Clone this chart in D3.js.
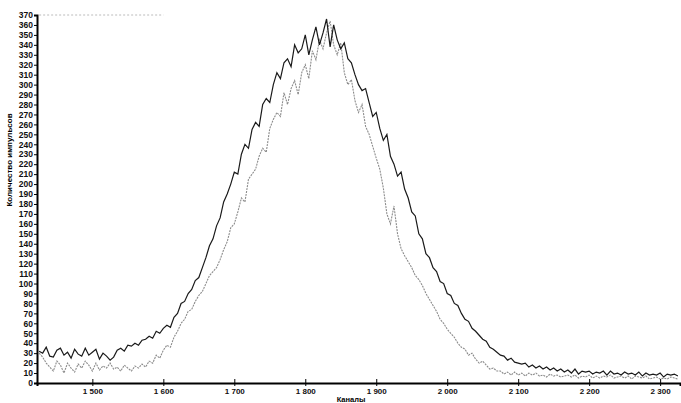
<!DOCTYPE html>
<html><head><meta charset="utf-8">
<script src="https://cdn.jsdelivr.net/npm/d3@7"></script>
<style>body{margin:0;background:#fff}svg{display:block}text{font-family:"Liberation Sans",Arial,sans-serif}</style>
</head><body><svg id="c" width="681" height="403"></svg>
<script>
const channelStart = 1425, channelStep = 5;
const xTicks = [1500,1600,1700,1800,1900,2000,2100,2200,2300];
const xTickLabels = ["1 500","1 600","1 700","1 800","1 900","2 000","2 100","2 200","2 300"];
const yTicks = [0,10,20,30,40,50,60,70,80,90,100,110,120,130,140,150,160,170,180,190,200,210,220,230,240,250,260,270,280,290,300,310,320,330,340,350,360,370];
const seriesBlack = [
32,30,36,27,26,33,35,28,31,25,
34,29,27,35,28,31,34,24,30,27,
23,26,33,35,32,38,37,40,38,43,
44,47,45,52,50,55,58,56,66,70,
80,82,90,94,103,106,116,126,138,145,
158,166,182,190,200,212,210,230,240,236,
255,262,258,280,286,282,300,312,306,322,
326,318,340,332,336,350,330,345,358,340,
352,366,338,360,345,336,342,326,322,310,
300,294,296,282,268,272,256,244,250,228,
220,208,212,195,186,172,168,150,145,130,
126,116,112,102,100,90,88,80,78,70,
64,62,55,52,48,44,42,36,34,31,
28,27,23,25,21,20,19,20,16,18,
15,17,14,16,13,15,12,14,11,13,
10,14,9,12,11,12,9,11,10,12,
8,12,9,10,8,11,9,10,8,11,
7,10,8,9,8,10,6,9,8,9,
7];
const seriesGray = [
30,26,20,16,12,22,18,10,20,15,
11,19,15,22,18,12,20,13,17,15,
20,14,16,12,18,15,12,17,15,19,
16,22,20,28,25,33,38,36,46,52,
60,64,72,74,82,88,92,100,108,112,
116,124,134,142,156,160,172,186,182,205,
210,215,228,236,232,256,265,272,268,292,
280,296,304,290,312,320,306,334,325,345,
336,352,364,340,330,342,312,300,305,284,
272,280,258,250,238,226,215,196,170,160,
178,150,135,128,122,116,108,104,98,90,
84,78,72,64,60,54,50,46,40,36,
34,28,30,24,20,22,18,14,15,12,
12,9,11,8,11,8,10,7,10,8,
10,7,8,6,9,7,8,6,7,8,
6,8,5,7,6,8,5,7,5,7,
6,8,5,6,7,5,7,4,7,6,
5,7,4,5,6,4,5,4,6,5,
4];

const svg = d3.select("#c");
const x = d3.scaleLinear().domain([1422, 2328]).range([37, 680]);
const y = d3.scaleLinear().domain([0, 370]).range([383, 15]);

// faint top dashed segment
svg.append("line").attr("x1", x(1425)).attr("x2", x(1600)).attr("y1", y(370)).attr("y2", y(370))
  .attr("stroke", "#aaa").attr("stroke-width", 0.8).attr("stroke-dasharray", "2,2");

const line = d3.line().x((d, i) => x(channelStart + i * channelStep)).y(d => y(d)).curve(d3.curveLinear);

svg.append("path").datum(seriesGray).attr("d", line).attr("fill", "none")
  .attr("stroke", "#8c8c8c").attr("stroke-width", 1.1).attr("stroke-dasharray", "2,1");
svg.append("path").datum(seriesBlack).attr("d", line).attr("fill", "none")
  .attr("stroke", "#1a1a1a").attr("stroke-width", 1.2);

// Y axis
const yAxis = d3.axisLeft(y).tickValues(yTicks).tickSize(3).tickPadding(1).tickFormat(d3.format("d"));
const gy = svg.append("g").attr("transform", "translate(37,0)").call(yAxis);
gy.select(".domain").attr("stroke", "#000").attr("stroke-width", 2);
gy.selectAll("text").attr("font-size", 8.5).attr("font-weight", "bold").attr("fill", "#111");

// X axis
const xAxis = d3.axisBottom(x).tickValues(xTicks).tickSize(3).tickPadding(2).tickFormat((d, i) => xTickLabels[i]);
const gx = svg.append("g").attr("transform", "translate(0,383)").call(xAxis);
gx.select(".domain").attr("stroke", "#000").attr("stroke-width", 2);
gx.selectAll(".tick line").attr("y1", -4);
gx.selectAll("text").attr("font-size", 8).attr("font-weight", "bold").attr("fill", "#111");

svg.append("text").attr("x", 351).attr("y", 402).attr("text-anchor", "middle")
  .attr("font-size", 7.5).attr("font-weight", "bold").text("Каналы");
svg.append("text").attr("transform", "translate(12,160) rotate(-90)").attr("text-anchor", "middle")
  .attr("font-size", 8).attr("font-weight", "bold").text("Количество импульсов");
</script></body></html>
